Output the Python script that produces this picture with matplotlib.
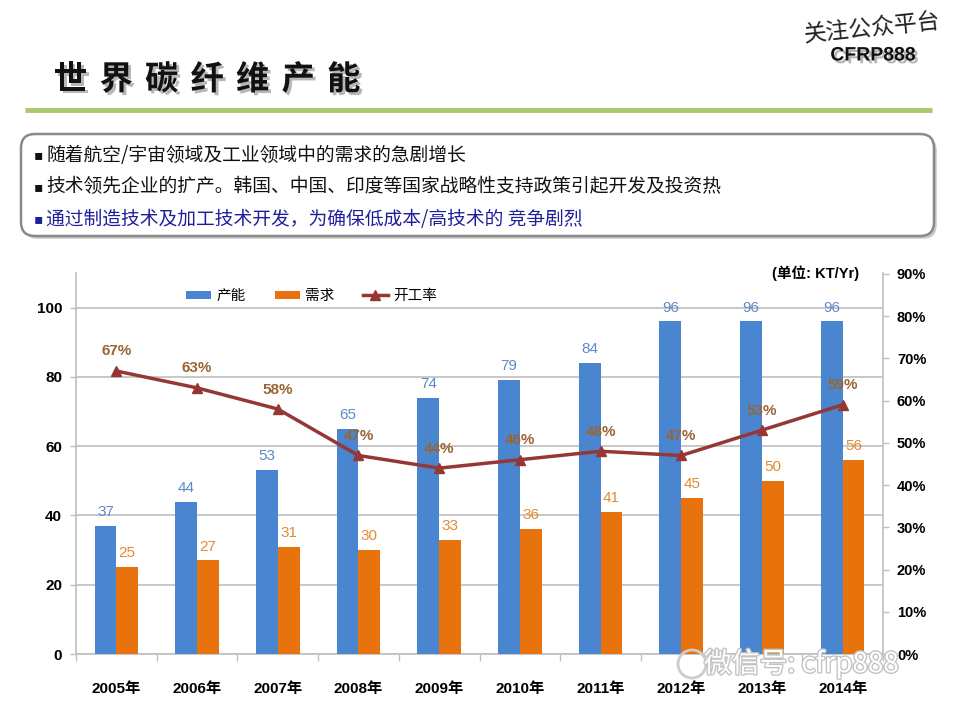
import numpy as np
import matplotlib
matplotlib.use("Agg")
import matplotlib.pyplot as plt
import matplotlib.patheffects as pe
from matplotlib.patches import FancyBboxPatch, Circle

plt.rcParams['font.family'] = ['Liberation Sans', 'Noto Sans CJK SC', 'DejaVu Sans']

# data
years = ['2005年', '2006年', '2007年', '2008年', '2009年',
         '2010年', '2011年', '2012年', '2013年', '2014年']
capacity = [37, 44, 53, 65, 74, 79, 84, 96, 96, 96]
demand = [25, 27, 31, 30, 33, 36, 41, 45, 50, 56]
rate = [67, 63, 58, 47, 44, 46, 48, 47, 53, 59]
left_ticks = [0, 20, 40, 60, 80, 100]
right_ticks = [0, 10, 20, 30, 40, 50, 60, 70, 80, 90]

title = '世界碳纤维产能'
bullets = ['随着航空/宇宙领域及工业领域中的需求的急剧增长',
           '技术领先企业的扩产。韩国、中国、印度等国家战略性支持政策引起开发及投资热',
           '通过制造技术及加工技术开发，为确保低成本/高技术的 竞争剧烈']
bullet_colors = ['#111111', '#111111', '#1f1f9c']

blue = '#4a86cf'
orange = '#e8720c'
red = '#953735'
grey = '#bfbfbf'

fig = plt.figure(figsize=(9.6, 7.2), dpi=100)
fig.patch.set_facecolor('white')

# slide background (pixel coordinates)
bg = fig.add_axes([0, 0, 1, 1], zorder=-1)
bg.set_xlim(0, 960)
bg.set_ylim(720, 0)
bg.axis('off')

cjk = ['Noto Sans CJK SC', 'DejaVu Sans']
shadow = [pe.withSimplePatchShadow(offset=(2, -2), shadow_rgbFace='#888888', alpha=0.6)]
for i, ch in enumerate(title):
    bg.text(54 + i * 45.5, 80, ch, fontsize=24, fontweight='semibold', family=cjk,
            va='center', ha='left', color='#111111', path_effects=shadow)

bg.plot([25, 932], [110, 110], color='#a9c96a', lw=3.5, solid_capstyle='butt')

bg.text(872, 28, '关注公众平台', fontsize=16.5, family=cjk, rotation=6,
        ha='center', va='center', color='#222222')
bg.text(873, 56, 'CFRP888', fontsize=14, fontweight='bold', ha='center', va='center',
        color='#111111', path_effects=shadow)

box = FancyBboxPatch((21, 134), 913, 102, boxstyle='round,pad=0,rounding_size=14',
                     fc='white', ec='#8a8a8a', lw=1.8,
                     path_effects=[pe.withSimplePatchShadow(offset=(2, -2), alpha=0.3)])
bg.add_patch(box)
for i, (txt, c) in enumerate(zip(bullets, bullet_colors)):
    y = 155 + i * 32
    bg.text(34, y, '▪', fontsize=10, family=['DejaVu Sans'], color=c, va='center', ha='left')
    bg.text(46, y, txt, fontsize=13.5, family=cjk, color=c, va='center', ha='left')

# chart
ax = fig.add_axes([76 / 960, 1 - 654 / 720, 807 / 960, (654 - 273) / 720])
x = np.arange(len(years))
w = 0.27
b1 = ax.bar(x - w / 2, capacity, w, color=blue, label='产能', zorder=3)
b2 = ax.bar(x + w / 2, demand, w, color=orange, label='需求', zorder=3)
for xi, v in zip(x, capacity):
    ax.annotate(str(v), (xi - w / 2, v), xytext=(0, 5), textcoords='offset points',
                ha='center', va='bottom', fontsize=11, color='#5b8bc6', zorder=5)
for xi, v in zip(x, demand):
    ax.annotate(str(v), (xi + w / 2, v), xytext=(0, 5), textcoords='offset points',
                ha='center', va='bottom', fontsize=11, color='#e38a36', zorder=5)

ax.set_xlim(-0.5, len(years) - 0.5)
ax.set_ylim(0, 110)
ax.set_yticks(left_ticks)
ax.yaxis.grid(True, color=grey, lw=1.2)
ax.set_axisbelow(True)
ax.set_xticks(x)
ax.set_xticklabels(years, fontweight='bold', fontsize=11)
ax.set_xticks(np.arange(len(years) + 1) - 0.5, minor=True)
ax.tick_params(axis='x', which='major', length=0, pad=20)
ax.tick_params(axis='x', which='minor', length=5, color=grey, width=1)
ax.tick_params(axis='y', length=4, color=grey, width=1, pad=6, labelsize=11)
for lab in ax.get_yticklabels():
    lab.set_fontweight('bold')
for s in ['top', 'right']:
    ax.spines[s].set_visible(False)
for s in ['left', 'bottom']:
    ax.spines[s].set_color(grey)
    ax.spines[s].set_linewidth(1.2)

ax2 = ax.twinx()
l1, = ax2.plot(x, rate, color=red, lw=2.5, marker='^', markersize=7, label='开工率', zorder=4)
for xi, v in zip(x, rate):
    ax2.annotate(f'{v}%', (xi, v), xytext=(0, 9), textcoords='offset points',
                 ha='center', va='bottom', fontsize=11, fontweight='bold',
                 color='#9a6535', zorder=5)
ax2.set_ylim(0, 90.2)
ax2.set_yticks(right_ticks)
ax2.set_yticklabels([f'{t}%' for t in right_ticks], fontweight='bold', fontsize=10.5)
ax2.tick_params(axis='y', length=4, color=grey, width=1, pad=6)
for s in ['top', 'left', 'bottom']:
    ax2.spines[s].set_visible(False)
ax2.spines['right'].set_color(grey)
ax2.spines['right'].set_linewidth(1.2)

leg = ax.legend(handles=[b1, b2, l1], loc='center', bbox_to_anchor=(0.292, 0.94),
                ncol=3, frameon=False, prop={'family': cjk, 'size': 10.5},
                handlelength=1.7, handleheight=0.45, columnspacing=2.0,
                handletextpad=0.35)

ax.text(0.97, 1.0, '(单位: KT/Yr)', transform=ax.transAxes, ha='right', va='center',
        fontsize=10.5, fontweight='bold', family=['Liberation Sans', 'Noto Sans CJK SC'])

# watermark
fig.patches.append(Circle((692, 720 - 664), 14, transform=None, fill=False,
                          ec='#cccccc', lw=2, zorder=10))
fig.text(704 / 960, 1 - 664 / 720, '微信号: cfrp888', fontsize=20, family=cjk,
         color='white', ha='left', va='center', zorder=10,
         path_effects=[pe.withStroke(linewidth=2, foreground='#c4c4c4')])

fig.savefig('out.png', dpi=100, facecolor='white')
